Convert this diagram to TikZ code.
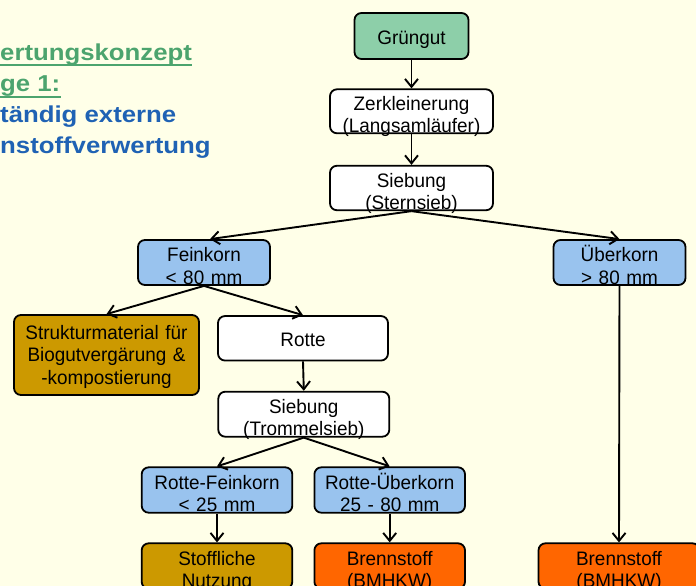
\documentclass[tikz,border=0pt]{standalone}
\usepackage{fontspec}
\setmainfont{Liberation Sans}[FakeStretch=0.97]
\newfontfamily\titlefont{Liberation Sans}[FakeStretch=1.12]
\usetikzlibrary{arrows.meta}
\definecolor{bg}{HTML}{FFFFE8}
\definecolor{gruen}{HTML}{8DCFA9}
\definecolor{hblau}{HTML}{99C3EE}
\definecolor{gold}{HTML}{CC9900}
\definecolor{orng}{HTML}{FF6600}
\definecolor{tgreen}{HTML}{4CA46E}
\definecolor{tblue}{HTML}{1F62B4}
\tikzset{
  box/.style={draw=black, line width=1.8pt, rounded corners=7pt, align=center,
    inner sep=0pt, font=\fontsize{19.5}{22.5}\selectfont},
  one/.style={box, text height=17pt, text depth=0pt},
  two/.style={box, text height=14pt, text depth=16pt},
  three/.style={box, text height=0pt, text depth=32pt},
  arr/.style={-{Straight Barb[length=8pt,width=13pt]}, line width=1.9pt},
  tl/.style={anchor=base west, inner sep=0pt, font=\titlefont\bfseries\fontsize{23}{26}\selectfont},
  uline/.style={tgreen, line width=2pt}
}
\begin{document}
\begin{tikzpicture}[x=1pt,y=-1pt]
\useasboundingbox (0,0) rectangle (696,586);
\clip (0,0) rectangle (696,586);
\fill[bg] (0,0) rectangle (696,586);

% title
\node[tl, text=tgreen] (t1) at (0,60) {ertungskonzept};
\node[tl, text=tgreen] (t2) at (0,91.5) {ge 1:};
\node[tl, text=tblue] (t3) at (0,122.5) {tändig externe};
\node[tl, text=tblue] (t4) at (0,153.5) {nstoffverwertung};
\draw[uline] ([yshift=-5.5pt]t1.base west) -- ([yshift=-5.5pt]t1.base east);
\draw[uline] ([yshift=-5.5pt]t2.base west) -- ([yshift=-5.5pt]t2.base east);

% boxes
\node[one, fill=gruen, minimum width=114pt, minimum height=46pt, text width=110pt] (gr) at (411.5,36) {Grüngut};
\node[two, fill=white, minimum width=163pt, minimum height=44pt, text width=159pt] (zer) at (411.5,111.3) {Zerkleinerung\\(Langsamläufer)};
\node[two, fill=white, minimum width=163pt, minimum height=44.5pt, text width=159pt] (sb1) at (411.5,188) {Siebung\\(Sternsieb)};
\node[two, fill=hblau, minimum width=132pt, minimum height=45pt, text width=128pt] (fein) at (204,262.5) {Feinkorn\\< 80 mm};
\node[two, fill=hblau, minimum width=132pt, minimum height=45pt, text width=128pt] (ueb) at (619.5,262.5) {Überkorn\\> 80 mm};
\node[three, fill=gold, minimum width=185pt, minimum height=80pt, text width=181pt] (struk) at (106.5,355) {Strukturmaterial für\\Biogutvergärung \&\\-kompostierung};
\node[one, fill=white, minimum width=170pt, minimum height=44.5pt, text width=166pt] (rot) at (303,338.3) {Rotte};
\node[two, fill=white, minimum width=171pt, minimum height=45pt, text width=167pt] (sb2) at (303.8,414.2) {Siebung\\(Trommelsieb)};
\node[two, fill=hblau, minimum width=150.6pt, minimum height=45.4pt, text width=146pt] (rfein) at (217,490) {Rotte-Feinkorn\\< 25 mm};
\node[two, fill=hblau, minimum width=150.6pt, minimum height=45.4pt, text width=146pt] (rueb) at (389.7,490) {Rotte-Überkorn\\25 - 80 mm};
\node[two, fill=gold, minimum width=150.6pt, minimum height=45.4pt, text width=146pt] (stoff) at (217,566) {Stoffliche\\Nutzung};
\node[two, fill=orng, minimum width=150.6pt, minimum height=45.4pt, text width=146pt] (br1) at (389.7,566) {Brennstoff\\(BMHKW)};
\node[two, fill=orng, minimum width=161pt, minimum height=45.4pt, text width=157pt] (br2) at (619,566) {Brennstoff\\(BMHKW)};

% connectors
\draw[arr] (gr.south) -- (zer.north);
\draw[arr] (zer.south) -- (sb1.north);
\draw[arr] (sb1.south) -- ([xshift=6pt]fein.north);
\draw[arr] (sb1.south) -- (ueb.north);
\draw[arr] (fein.south) -- (struk.north);
\draw[arr] (fein.south) -- (rot.north);
\draw[arr] (rot.south) -- (sb2.north);
\draw[arr] (sb2.south) -- (rfein.north);
\draw[arr] (sb2.south) -- (rueb.north);
\draw[arr] (rfein.south) -- (stoff.north);
\draw[arr] (rueb.south) -- (br1.north);
\draw[arr] (ueb.south) -- (br2.north);
\end{tikzpicture}
\end{document}
